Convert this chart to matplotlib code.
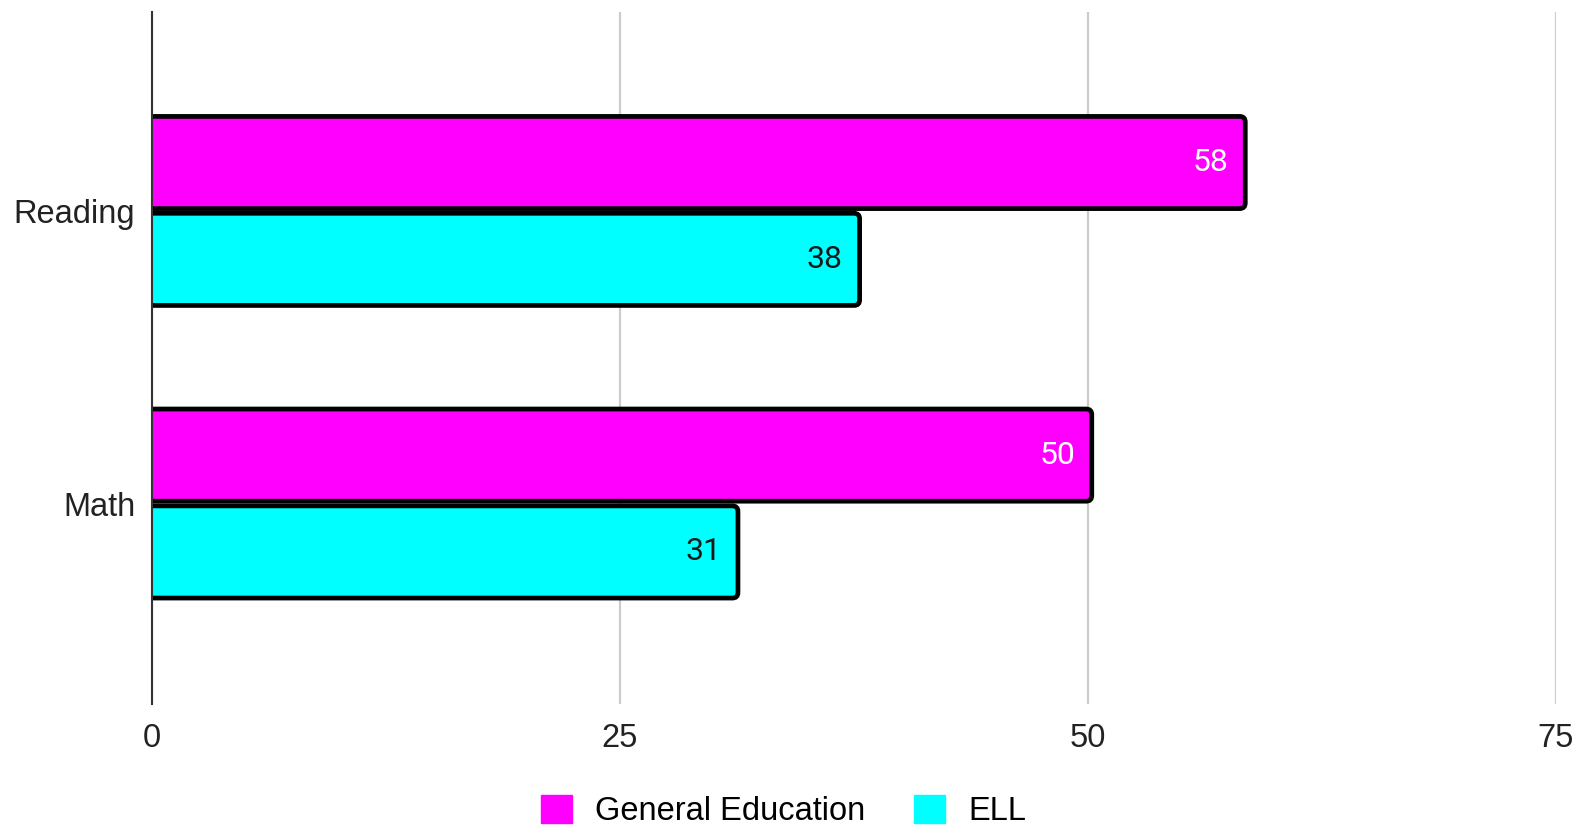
import numpy as np
import matplotlib.pyplot as plt
from matplotlib.patches import Patch, FancyBboxPatch

plt.rcParams['font.family'] = ['Liberation Sans', 'DejaVu Sans']

categories = ['Reading', 'Math']
gen_ed = [58.4, 50.2]
ell = [37.8, 31.3]
series_names = ['General Education', 'ELL']
colors = ['#ff00ff', '#00ffff']
label_colors = ['white', '#1a1a1a']

fig = plt.figure(figsize=(15.77, 8.25), dpi=100)
ax = fig.add_axes([0.0964, 0.1467, 0.8903, 0.8388])
ax.set_xlim(0, 75)
ax.set_ylim(1.685, -0.68)

y = np.arange(len(categories))
h = 0.315
offsets = [-h / 2 - 0.008, h / 2 + 0.008]

# pixel aspect so the rounded corners stay circular
fig.canvas.draw()
bbox = ax.get_window_extent()
px_x = 75 / bbox.width
px_y = (1.685 + 0.68) / bbox.height
aspect = px_y / px_x

for vals, off, c, lc in zip([gen_ed, ell], offsets, colors, label_colors):
    bars = ax.barh(y + off, vals, height=h, color=c)
    for b in bars:
        b.set_visible(False)
        x0, y0, w, hh = b.get_x(), b.get_y(), b.get_width(), b.get_height()
        p = FancyBboxPatch((x0 - 1, y0), w + 1, hh,
                           boxstyle='round,pad=0,rounding_size=0.3',
                           mutation_aspect=aspect, facecolor=c,
                           edgecolor='black', linewidth=3.4, zorder=3)
        ax.add_patch(p)
    for yi, v in zip(y + off, vals):
        ax.annotate(str(round(v)), (v, yi), xytext=(-12, 0), textcoords='offset points',
                    ha='right', va='center', color=lc, fontsize=23,
                    family=['Roboto', 'DejaVu Sans'], zorder=4)

ax.set_xticks([0, 25, 50, 75])
ax.set_yticks(y)
ax.set_yticklabels(categories)
ax.tick_params(axis='both', length=0, labelsize=23.5, colors='#222222')
ax.tick_params(axis='x', pad=14)
ax.tick_params(axis='y', pad=12)
ax.grid(axis='x', color='#cccccc', linewidth=1.6, zorder=0)
for s in ['top', 'right', 'bottom']:
    ax.spines[s].set_visible(False)
ax.spines['left'].set_color('#333333')
ax.spines['left'].set_linewidth(1.5)
ax.spines['left'].set_zorder(5)

handles = [Patch(facecolor=c, edgecolor=c, label=n) for c, n in zip(colors, series_names)]
fig.legend(handles=handles, loc='lower center', bbox_to_anchor=(0.497, -0.038),
           ncol=2, frameon=False, fontsize=23.5, handlelength=0.95, handleheight=0.95,
           columnspacing=1.5, handletextpad=0.7)

fig.savefig('out.png', dpi=100)
